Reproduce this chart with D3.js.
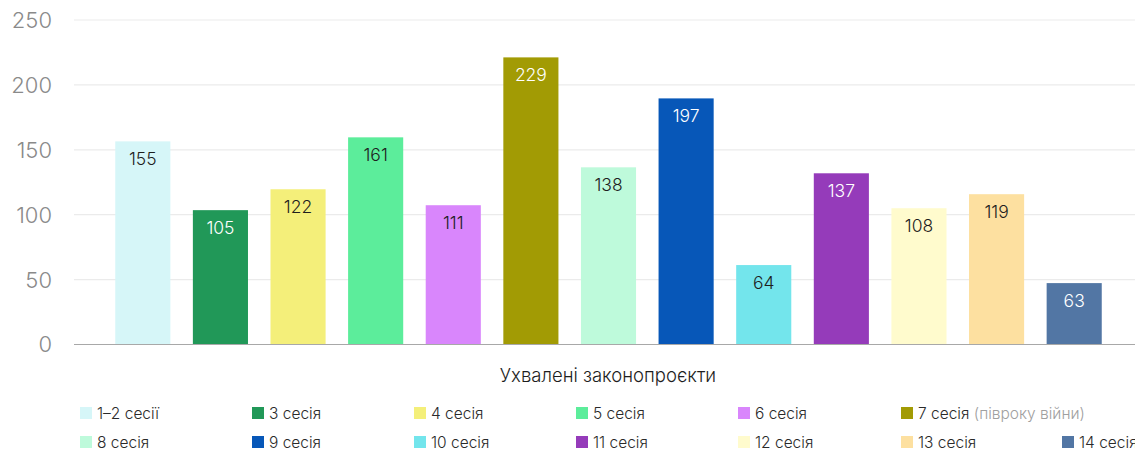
<!DOCTYPE html>
<html>
<head>
<meta charset="utf-8">
<script src="https://cdn.jsdelivr.net/npm/d3@7"></script>
<style>
  body { margin: 0; background: #fff; }
  svg { display: block; font-family: Inter, "Noto Sans", sans-serif; }
</style>
</head>
<body>
<script>
// sessions, bar heights as drawn, and the printed labels
const sessions = ["1–2 сесії", "3 сесія", "4 сесія", "5 сесія", "6 сесія", "7 сесія", "8 сесія",
                  "9 сесія", "10 сесія", "11 сесія", "12 сесія", "13 сесія", "14 сесія"];
const barValues = [156.5, 103.5, 119.6, 159.6, 107.3, 221.2, 136.5, 189.6, 61.2, 131.9, 105, 115.8, 47.3];
const barLabels = [155, 105, 122, 161, 111, 229, 138, 197, 64, 137, 108, 119, 63];
const barColors = ["#d6f6f8", "#219858", "#f4ef7a", "#5ced9b", "#d986fc", "#a29b04", "#befadb",
                   "#0757b8", "#73e5ec", "#953bba", "#fffbcd", "#fde0a0", "#5276a4"];
const darkBars = ["3 сесія", "7 сесія", "9 сесія", "11 сесія", "14 сесія"];
const yTicks = [0, 50, 100, 150, 200, 250];
const legendNotes = {"7 сесія": "(півроку війни)"};

const width = 1135, height = 452;
const svg = d3.select("body").append("svg")
  .attr("width", width)
  .attr("height", height);

const x = d3.scaleBand().domain(sessions).range([104, 1113]).paddingInner(0.29).paddingOuter(0.145);
const y = d3.scaleLinear().domain([0, 250]).range([344.5, 20]);

// grid
svg.append("g").selectAll("line")
  .data(yTicks.filter(d => d > 0))
  .enter().append("line")
  .attr("x1", 74).attr("x2", width)
  .attr("y1", d => y(d)).attr("y2", d => y(d))
  .attr("stroke", "#ebebeb")
  .attr("stroke-width", 1.2);

// y labels
svg.append("g").selectAll("text")
  .data(yTicks)
  .enter().append("text")
  .attr("x", 52)
  .attr("y", d => y(d))
  .attr("dy", "0.36em")
  .attr("text-anchor", "end")
  .attr("fill", "#8a8a8a")
  .style("font-size", "22px")
  .style("font-weight", 300)
  .text(d => d);

// bars
svg.append("g").selectAll("rect")
  .data(sessions)
  .enter().append("rect")
  .attr("x", d => x(d))
  .attr("y", (d, i) => y(barValues[i]))
  .attr("width", x.bandwidth())
  .attr("height", (d, i) => y(0) - y(barValues[i]))
  .attr("fill", (d, i) => barColors[i]);

// baseline
svg.append("line")
  .attr("x1", 74).attr("x2", width)
  .attr("y1", y(0)).attr("y2", y(0))
  .attr("stroke", "#a8a8a8")
  .attr("stroke-width", 1.2);

// bar labels
svg.append("g").selectAll("text")
  .data(sessions)
  .enter().append("text")
  .attr("x", d => x(d) + x.bandwidth() / 2)
  .attr("y", (d, i) => y(barValues[i]) + 24)
  .attr("text-anchor", "middle")
  .attr("fill", d => darkBars.includes(d) ? "#ffffff" : "#1e1e1e")
  .style("font-size", "17.5px")
  .style("font-weight", 300)
  .text((d, i) => barLabels[i]);

// axis title
svg.append("text")
  .attr("x", 608)
  .attr("y", 381.5)
  .attr("text-anchor", "middle")
  .attr("fill", "#1e1e1e")
  .style("font-size", "18.5px")
  .style("font-weight", 300)
  .text("Ухвалені законопроєкти");

// legend
const legendCols = [80, 252, 414, 576, 738, 901, 1062];
const legendRows = [419, 448];
const legend = svg.append("g").selectAll("g")
  .data(sessions)
  .enter().append("g")
  .attr("transform", (d, i) => {
    const row = i < 6 ? 0 : 1;
    const col = i < 6 ? i : i - 6;
    return `translate(${legendCols[col]},${legendRows[row]})`;
  });

legend.append("rect")
  .attr("x", 0).attr("y", -12)
  .attr("width", 12).attr("height", 12)
  .attr("fill", (d, i) => barColors[i]);

const legendText = legend.append("text")
  .attr("x", 17)
  .attr("y", 0)
  .attr("fill", "#2a2a2a")
  .style("font-size", "15.5px")
  .style("font-weight", 300);
legendText.append("tspan").text(d => d);
legendText.append("tspan")
  .attr("fill", "#a0a0a0")
  .text(d => legendNotes[d] ? " " + legendNotes[d] : "");
</script>
</body>
</html>
